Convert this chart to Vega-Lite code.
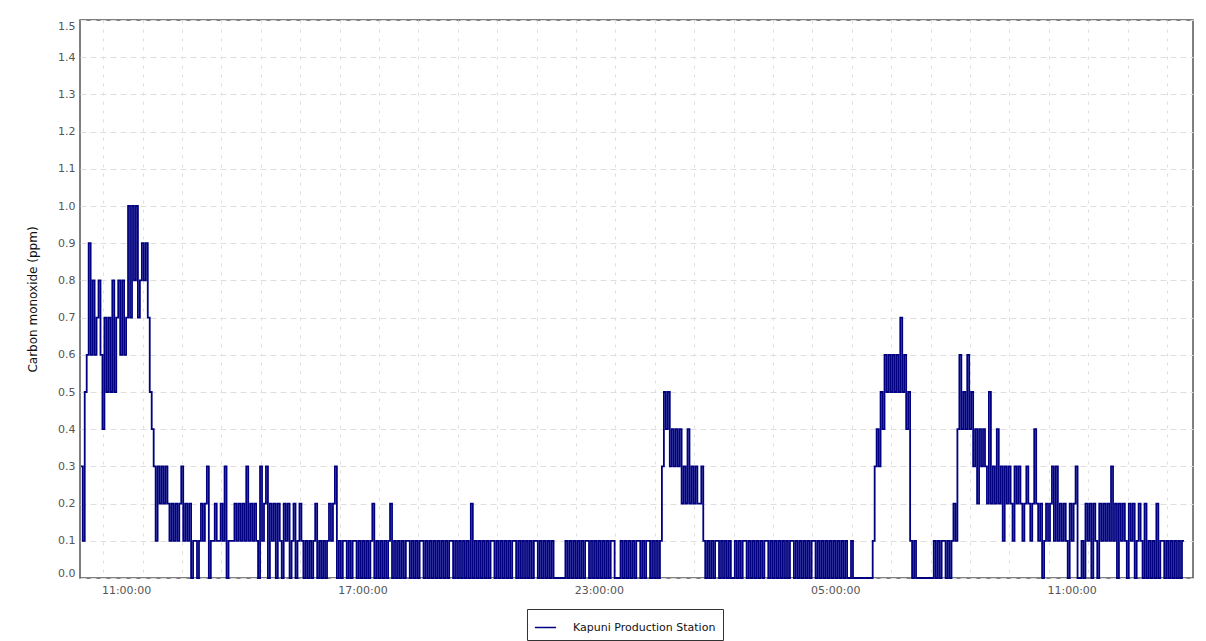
{
 "$schema": "https://vega.github.io/schema/vega-lite/v6.json",
 "width": 1113,
 "height": 558,
 "autosize": {"type": "none"},
 "padding": {"left": 80, "top": 20, "right": 13, "bottom": 63},
 "background": "white",
 "config": {"view": {"stroke": "#555555", "strokeWidth": 1.5}, "font": "DejaVu Sans"},
 "data": {"values": [
{"h":9.85,"v":0.3},{"h":9.90,"v":0.1},{"h":9.95,"v":0.5},
{"h":10.00,"v":0.6},{"h":10.05,"v":0.9},{"h":10.10,"v":0.6},{"h":10.15,"v":0.8},{"h":10.20,"v":0.6},{"h":10.25,"v":0.7},{"h":10.30,"v":0.8},{"h":10.35,"v":0.6},{"h":10.40,"v":0.4},{"h":10.45,"v":0.7},{"h":10.50,"v":0.5},{"h":10.55,"v":0.7},{"h":10.60,"v":0.5},{"h":10.65,"v":0.8},{"h":10.70,"v":0.5},{"h":10.75,"v":0.7},{"h":10.80,"v":0.8},{"h":10.85,"v":0.6},{"h":10.90,"v":0.8},{"h":10.95,"v":0.6},
{"h":11.00,"v":0.7},{"h":11.05,"v":1.0},{"h":11.10,"v":0.7},{"h":11.15,"v":1.0},{"h":11.20,"v":0.8},{"h":11.25,"v":1.0},{"h":11.30,"v":0.7},{"h":11.35,"v":0.8},{"h":11.40,"v":0.9},{"h":11.45,"v":0.8},{"h":11.50,"v":0.9},{"h":11.55,"v":0.7},{"h":11.60,"v":0.5},{"h":11.65,"v":0.4},{"h":11.70,"v":0.3},{"h":11.75,"v":0.1},{"h":11.80,"v":0.3},{"h":11.85,"v":0.2},{"h":11.90,"v":0.3},{"h":11.95,"v":0.2},
{"h":12.00,"v":0.3},{"h":12.05,"v":0.2},{"h":12.10,"v":0.1},{"h":12.15,"v":0.2},{"h":12.20,"v":0.1},{"h":12.25,"v":0.2},{"h":12.30,"v":0.1},{"h":12.35,"v":0.2},{"h":12.40,"v":0.3},{"h":12.45,"v":0.1},{"h":12.50,"v":0.2},{"h":12.55,"v":0.1},{"h":12.60,"v":0.2},{"h":12.65,"v":0.0},{"h":12.70,"v":0.1},{"h":12.75,"v":0.1},{"h":12.80,"v":0.0},{"h":12.85,"v":0.1},{"h":12.90,"v":0.2},{"h":12.95,"v":0.1},
{"h":13.00,"v":0.2},{"h":13.05,"v":0.3},{"h":13.10,"v":0.0},{"h":13.15,"v":0.1},{"h":13.20,"v":0.1},{"h":13.25,"v":0.2},{"h":13.30,"v":0.1},{"h":13.35,"v":0.1},{"h":13.40,"v":0.2},{"h":13.45,"v":0.1},{"h":13.50,"v":0.3},{"h":13.55,"v":0.0},{"h":13.60,"v":0.1},{"h":13.65,"v":0.1},{"h":13.70,"v":0.1},{"h":13.75,"v":0.2},{"h":13.80,"v":0.1},{"h":13.85,"v":0.2},{"h":13.90,"v":0.1},{"h":13.95,"v":0.2},
{"h":14.00,"v":0.1},{"h":14.05,"v":0.3},{"h":14.10,"v":0.1},{"h":14.15,"v":0.2},{"h":14.20,"v":0.1},{"h":14.25,"v":0.2},{"h":14.30,"v":0.1},{"h":14.35,"v":0.0},{"h":14.40,"v":0.3},{"h":14.45,"v":0.1},{"h":14.50,"v":0.2},{"h":14.55,"v":0.3},{"h":14.60,"v":0.0},{"h":14.65,"v":0.2},{"h":14.70,"v":0.1},{"h":14.75,"v":0.2},{"h":14.80,"v":0.0},{"h":14.85,"v":0.2},{"h":14.90,"v":0.1},{"h":14.95,"v":0.0},
{"h":15.00,"v":0.2},{"h":15.05,"v":0.1},{"h":15.10,"v":0.2},{"h":15.15,"v":0.0},{"h":15.20,"v":0.1},{"h":15.25,"v":0.2},{"h":15.30,"v":0.0},{"h":15.35,"v":0.1},{"h":15.40,"v":0.2},{"h":15.45,"v":0.1},{"h":15.50,"v":0.0},{"h":15.55,"v":0.1},{"h":15.60,"v":0.0},{"h":15.65,"v":0.1},{"h":15.70,"v":0.0},{"h":15.75,"v":0.1},{"h":15.80,"v":0.2},{"h":15.85,"v":0.0},{"h":15.90,"v":0.1},{"h":15.95,"v":0.0},
{"h":16.00,"v":0.1},{"h":16.05,"v":0.0},{"h":16.10,"v":0.1},{"h":16.15,"v":0.2},{"h":16.20,"v":0.1},{"h":16.25,"v":0.2},{"h":16.30,"v":0.3},{"h":16.35,"v":0.0},{"h":16.40,"v":0.1},{"h":16.45,"v":0.0},{"h":16.50,"v":0.1},{"h":16.55,"v":0.1},{"h":16.60,"v":0.0},{"h":16.65,"v":0.1},{"h":16.70,"v":0.0},{"h":16.75,"v":0.1},{"h":16.80,"v":0.1},{"h":16.85,"v":0.0},{"h":16.90,"v":0.1},{"h":16.95,"v":0.0},
{"h":17.00,"v":0.1},{"h":17.05,"v":0.0},{"h":17.10,"v":0.1},{"h":17.15,"v":0.0},{"h":17.20,"v":0.1},{"h":17.25,"v":0.2},{"h":17.30,"v":0.0},{"h":17.35,"v":0.1},{"h":17.40,"v":0.0},{"h":17.45,"v":0.1},{"h":17.50,"v":0.0},{"h":17.55,"v":0.1},{"h":17.60,"v":0.0},{"h":17.65,"v":0.1},{"h":17.70,"v":0.2},{"h":17.75,"v":0.0},{"h":17.80,"v":0.1},{"h":17.85,"v":0.0},{"h":17.90,"v":0.1},{"h":17.95,"v":0.0},
{"h":18.00,"v":0.1},{"h":18.05,"v":0.0},{"h":18.10,"v":0.1},{"h":18.15,"v":0.1},{"h":18.20,"v":0.0},{"h":18.25,"v":0.1},{"h":18.30,"v":0.0},{"h":18.35,"v":0.1},{"h":18.40,"v":0.0},{"h":18.45,"v":0.1},{"h":18.50,"v":0.1},{"h":18.55,"v":0.0},{"h":18.60,"v":0.1},{"h":18.65,"v":0.0},{"h":18.70,"v":0.1},{"h":18.75,"v":0.0},{"h":18.80,"v":0.1},{"h":18.85,"v":0.0},{"h":18.90,"v":0.1},{"h":18.95,"v":0.0},
{"h":19.00,"v":0.1},{"h":19.05,"v":0.0},{"h":19.10,"v":0.1},{"h":19.15,"v":0.0},{"h":19.20,"v":0.1},{"h":19.25,"v":0.1},{"h":19.30,"v":0.0},{"h":19.35,"v":0.1},{"h":19.40,"v":0.0},{"h":19.45,"v":0.1},{"h":19.50,"v":0.0},{"h":19.55,"v":0.1},{"h":19.60,"v":0.0},{"h":19.65,"v":0.1},{"h":19.70,"v":0.0},{"h":19.75,"v":0.2},{"h":19.80,"v":0.0},{"h":19.85,"v":0.1},{"h":19.90,"v":0.0},{"h":19.95,"v":0.1},
{"h":20.00,"v":0.0},{"h":20.05,"v":0.1},{"h":20.10,"v":0.0},{"h":20.15,"v":0.1},{"h":20.20,"v":0.0},{"h":20.25,"v":0.1},{"h":20.30,"v":0.1},{"h":20.35,"v":0.0},{"h":20.40,"v":0.1},{"h":20.45,"v":0.0},{"h":20.50,"v":0.1},{"h":20.55,"v":0.0},{"h":20.60,"v":0.1},{"h":20.65,"v":0.0},{"h":20.70,"v":0.1},{"h":20.75,"v":0.0},{"h":20.80,"v":0.1},{"h":20.85,"v":0.1},{"h":20.90,"v":0.0},{"h":20.95,"v":0.1},
{"h":21.00,"v":0.0},{"h":21.05,"v":0.1},{"h":21.10,"v":0.0},{"h":21.15,"v":0.1},{"h":21.20,"v":0.0},{"h":21.25,"v":0.1},{"h":21.30,"v":0.0},{"h":21.35,"v":0.1},{"h":21.40,"v":0.1},{"h":21.45,"v":0.0},{"h":21.50,"v":0.1},{"h":21.55,"v":0.0},{"h":21.60,"v":0.1},{"h":21.65,"v":0.0},{"h":21.70,"v":0.1},{"h":21.75,"v":0.0},{"h":21.80,"v":0.1},{"h":21.85,"v":0.0},{"h":21.90,"v":0.0},{"h":21.95,"v":0.0},
{"h":22.00,"v":0.0},{"h":22.05,"v":0.0},{"h":22.10,"v":0.0},{"h":22.15,"v":0.1},{"h":22.20,"v":0.0},{"h":22.25,"v":0.1},{"h":22.30,"v":0.0},{"h":22.35,"v":0.1},{"h":22.40,"v":0.0},{"h":22.45,"v":0.1},{"h":22.50,"v":0.0},{"h":22.55,"v":0.1},{"h":22.60,"v":0.0},{"h":22.65,"v":0.1},{"h":22.70,"v":0.1},{"h":22.75,"v":0.0},{"h":22.80,"v":0.1},{"h":22.85,"v":0.0},{"h":22.90,"v":0.1},{"h":22.95,"v":0.0},
{"h":23.00,"v":0.1},{"h":23.05,"v":0.0},{"h":23.10,"v":0.1},{"h":23.15,"v":0.0},{"h":23.20,"v":0.1},{"h":23.25,"v":0.0},{"h":23.30,"v":0.1},{"h":23.35,"v":0.1},{"h":23.40,"v":0.0},{"h":23.45,"v":0.0},{"h":23.50,"v":0.0},{"h":23.55,"v":0.1},{"h":23.60,"v":0.0},{"h":23.65,"v":0.1},{"h":23.70,"v":0.0},{"h":23.75,"v":0.1},{"h":23.80,"v":0.0},{"h":23.85,"v":0.1},{"h":23.90,"v":0.0},{"h":23.95,"v":0.1},
{"h":24.00,"v":0.1},{"h":24.05,"v":0.0},{"h":24.10,"v":0.1},{"h":24.15,"v":0.0},{"h":24.20,"v":0.1},{"h":24.25,"v":0.1},{"h":24.30,"v":0.0},{"h":24.35,"v":0.1},{"h":24.40,"v":0.0},{"h":24.45,"v":0.1},{"h":24.50,"v":0.0},{"h":24.55,"v":0.1},{"h":24.60,"v":0.3},{"h":24.65,"v":0.5},{"h":24.70,"v":0.4},{"h":24.75,"v":0.5},{"h":24.80,"v":0.3},{"h":24.85,"v":0.4},{"h":24.90,"v":0.3},{"h":24.95,"v":0.4},
{"h":25.00,"v":0.3},{"h":25.05,"v":0.4},{"h":25.10,"v":0.2},{"h":25.15,"v":0.3},{"h":25.20,"v":0.2},{"h":25.25,"v":0.4},{"h":25.30,"v":0.2},{"h":25.35,"v":0.3},{"h":25.40,"v":0.2},{"h":25.45,"v":0.3},{"h":25.50,"v":0.2},{"h":25.55,"v":0.2},{"h":25.60,"v":0.3},{"h":25.65,"v":0.1},{"h":25.70,"v":0.0},{"h":25.75,"v":0.1},{"h":25.80,"v":0.0},{"h":25.85,"v":0.1},{"h":25.90,"v":0.0},{"h":25.95,"v":0.1},
{"h":26.00,"v":0.1},{"h":26.05,"v":0.0},{"h":26.10,"v":0.1},{"h":26.15,"v":0.0},{"h":26.20,"v":0.1},{"h":26.25,"v":0.0},{"h":26.30,"v":0.1},{"h":26.35,"v":0.0},{"h":26.40,"v":0.0},{"h":26.45,"v":0.1},{"h":26.50,"v":0.0},{"h":26.55,"v":0.1},{"h":26.60,"v":0.0},{"h":26.65,"v":0.1},{"h":26.70,"v":0.1},{"h":26.75,"v":0.0},{"h":26.80,"v":0.1},{"h":26.85,"v":0.0},{"h":26.90,"v":0.1},{"h":26.95,"v":0.0},
{"h":27.00,"v":0.1},{"h":27.05,"v":0.0},{"h":27.10,"v":0.1},{"h":27.15,"v":0.0},{"h":27.20,"v":0.1},{"h":27.25,"v":0.1},{"h":27.30,"v":0.0},{"h":27.35,"v":0.1},{"h":27.40,"v":0.0},{"h":27.45,"v":0.1},{"h":27.50,"v":0.0},{"h":27.55,"v":0.1},{"h":27.60,"v":0.0},{"h":27.65,"v":0.1},{"h":27.70,"v":0.0},{"h":27.75,"v":0.1},{"h":27.80,"v":0.0},{"h":27.85,"v":0.1},{"h":27.90,"v":0.1},{"h":27.95,"v":0.0},
{"h":28.00,"v":0.1},{"h":28.05,"v":0.0},{"h":28.10,"v":0.1},{"h":28.15,"v":0.0},{"h":28.20,"v":0.1},{"h":28.25,"v":0.0},{"h":28.30,"v":0.1},{"h":28.35,"v":0.0},{"h":28.40,"v":0.1},{"h":28.45,"v":0.1},{"h":28.50,"v":0.0},{"h":28.55,"v":0.1},{"h":28.60,"v":0.0},{"h":28.65,"v":0.1},{"h":28.70,"v":0.0},{"h":28.75,"v":0.1},{"h":28.80,"v":0.0},{"h":28.85,"v":0.1},{"h":28.90,"v":0.0},{"h":28.95,"v":0.1},
{"h":29.00,"v":0.0},{"h":29.05,"v":0.1},{"h":29.10,"v":0.0},{"h":29.15,"v":0.1},{"h":29.20,"v":0.0},{"h":29.25,"v":0.1},{"h":29.30,"v":0.0},{"h":29.35,"v":0.0},{"h":29.40,"v":0.1},{"h":29.45,"v":0.0},{"h":29.50,"v":0.0},{"h":29.55,"v":0.0},{"h":29.60,"v":0.0},{"h":29.65,"v":0.0},{"h":29.70,"v":0.0},{"h":29.75,"v":0.0},{"h":29.80,"v":0.0},{"h":29.85,"v":0.0},{"h":29.90,"v":0.0},{"h":29.95,"v":0.1},
{"h":30.00,"v":0.3},{"h":30.05,"v":0.4},{"h":30.10,"v":0.3},{"h":30.15,"v":0.5},{"h":30.20,"v":0.4},{"h":30.25,"v":0.6},{"h":30.30,"v":0.5},{"h":30.35,"v":0.6},{"h":30.40,"v":0.5},{"h":30.45,"v":0.6},{"h":30.50,"v":0.5},{"h":30.55,"v":0.6},{"h":30.60,"v":0.5},{"h":30.65,"v":0.7},{"h":30.70,"v":0.5},{"h":30.75,"v":0.6},{"h":30.80,"v":0.4},{"h":30.85,"v":0.5},{"h":30.90,"v":0.1},{"h":30.95,"v":0.0},
{"h":31.00,"v":0.1},{"h":31.05,"v":0.0},{"h":31.10,"v":0.0},{"h":31.15,"v":0.0},{"h":31.20,"v":0.0},{"h":31.25,"v":0.0},{"h":31.30,"v":0.0},{"h":31.35,"v":0.0},{"h":31.40,"v":0.0},{"h":31.45,"v":0.0},{"h":31.50,"v":0.1},{"h":31.55,"v":0.0},{"h":31.60,"v":0.1},{"h":31.65,"v":0.0},{"h":31.70,"v":0.1},{"h":31.75,"v":0.1},{"h":31.80,"v":0.0},{"h":31.85,"v":0.1},{"h":31.90,"v":0.0},{"h":31.95,"v":0.1},
{"h":32.00,"v":0.2},{"h":32.05,"v":0.1},{"h":32.10,"v":0.4},{"h":32.15,"v":0.6},{"h":32.20,"v":0.4},{"h":32.25,"v":0.5},{"h":32.30,"v":0.4},{"h":32.35,"v":0.6},{"h":32.40,"v":0.4},{"h":32.45,"v":0.5},{"h":32.50,"v":0.3},{"h":32.55,"v":0.4},{"h":32.60,"v":0.2},{"h":32.65,"v":0.4},{"h":32.70,"v":0.3},{"h":32.75,"v":0.4},{"h":32.80,"v":0.3},{"h":32.85,"v":0.2},{"h":32.90,"v":0.5},{"h":32.95,"v":0.2},
{"h":33.00,"v":0.3},{"h":33.05,"v":0.2},{"h":33.10,"v":0.4},{"h":33.15,"v":0.2},{"h":33.20,"v":0.3},{"h":33.25,"v":0.1},{"h":33.30,"v":0.3},{"h":33.35,"v":0.2},{"h":33.40,"v":0.3},{"h":33.45,"v":0.2},{"h":33.50,"v":0.1},{"h":33.55,"v":0.3},{"h":33.60,"v":0.2},{"h":33.65,"v":0.3},{"h":33.70,"v":0.2},{"h":33.75,"v":0.1},{"h":33.80,"v":0.2},{"h":33.85,"v":0.3},{"h":33.90,"v":0.2},{"h":33.95,"v":0.1},
{"h":34.00,"v":0.2},{"h":34.05,"v":0.4},{"h":34.10,"v":0.2},{"h":34.15,"v":0.1},{"h":34.20,"v":0.2},{"h":34.25,"v":0.0},{"h":34.30,"v":0.1},{"h":34.35,"v":0.2},{"h":34.40,"v":0.1},{"h":34.45,"v":0.2},{"h":34.50,"v":0.3},{"h":34.55,"v":0.1},{"h":34.60,"v":0.3},{"h":34.65,"v":0.1},{"h":34.70,"v":0.2},{"h":34.75,"v":0.1},{"h":34.80,"v":0.2},{"h":34.85,"v":0.1},{"h":34.90,"v":0.0},{"h":34.95,"v":0.2},
{"h":35.00,"v":0.1},{"h":35.05,"v":0.2},{"h":35.10,"v":0.3},{"h":35.15,"v":0.0},{"h":35.20,"v":0.0},{"h":35.25,"v":0.1},{"h":35.30,"v":0.0},{"h":35.35,"v":0.2},{"h":35.40,"v":0.1},{"h":35.45,"v":0.2},{"h":35.50,"v":0.0},{"h":35.55,"v":0.2},{"h":35.60,"v":0.1},{"h":35.65,"v":0.0},{"h":35.70,"v":0.2},{"h":35.75,"v":0.1},{"h":35.80,"v":0.2},{"h":35.85,"v":0.1},{"h":35.90,"v":0.2},{"h":35.95,"v":0.1},
{"h":36.00,"v":0.3},{"h":36.05,"v":0.1},{"h":36.10,"v":0.2},{"h":36.15,"v":0.0},{"h":36.20,"v":0.2},{"h":36.25,"v":0.1},{"h":36.30,"v":0.2},{"h":36.35,"v":0.1},{"h":36.40,"v":0.0},{"h":36.45,"v":0.2},{"h":36.50,"v":0.1},{"h":36.55,"v":0.2},{"h":36.60,"v":0.0},{"h":36.65,"v":0.1},{"h":36.70,"v":0.2},{"h":36.75,"v":0.1},{"h":36.80,"v":0.0},{"h":36.85,"v":0.2},{"h":36.90,"v":0.0},{"h":36.95,"v":0.1},
{"h":37.00,"v":0.0},{"h":37.05,"v":0.1},{"h":37.10,"v":0.0},{"h":37.15,"v":0.2},{"h":37.20,"v":0.0},{"h":37.25,"v":0.1},{"h":37.30,"v":0.1},{"h":37.35,"v":0.0},{"h":37.40,"v":0.1},{"h":37.45,"v":0.0},{"h":37.50,"v":0.1},{"h":37.55,"v":0.0},{"h":37.60,"v":0.1},{"h":37.65,"v":0.0},{"h":37.70,"v":0.1},{"h":37.75,"v":0.0},{"h":37.80,"v":0.1},{"h":37.85,"v":0.1}
 ]},
 "mark": {"type": "line", "interpolate": "step-after", "strokeWidth": 1.8},
 "encoding": {
  "x": {
   "field": "h", "type": "quantitative",
   "scale": {"domain": [9.83, 38.08], "nice": false, "zero": false},
   "axis": {
    "title": null,
    "values": [10.42,11,11.42,12.42,13.42,14.42,15.42,16.42,17,17.42,18.42,19.42,20.42,21.42,22.42,23,23.42,24.42,25.42,26.42,27.42,28.42,29,29.42,30.42,31.42,32.42,33.42,34.42,35,35.42,36.42,37.42],
    "labelExpr": "datum.value % 1 == 0 ? ((datum.value % 24 < 10 ? '0' : '') + (datum.value % 24) + ':00:00') : ''",
    "labelOverlap": false,
    "ticks": false,
    "domain": false,
    "labelFontSize": 11,
    "labelColor": "#555555",
    "labelPadding": 6,
    "gridColor": "#dedede",
    "gridDash": [3, 6],
    "gridOpacity": {"condition": {"test": "datum.value % 1 == 0", "value": 0}, "value": 1}
   }
  },
  "y": {
   "field": "v", "type": "quantitative",
   "scale": {"domain": [0, 1.5], "nice": false},
   "axis": {
    "title": "Carbon monoxide (ppm)",
    "values": [0,0.1,0.2,0.3,0.4,0.5,0.6,0.7,0.8,0.9,1.0,1.1,1.2,1.3,1.4,1.5],
    "format": ".1f",
    "labelFlush": true,
    "ticks": false,
    "domain": false,
    "labelFontSize": 11,
    "labelColor": "#555555",
    "labelPadding": 5,
    "gridColor": "#dedede",
    "gridDash": [6, 4],
    "titleFontSize": 12,
    "titleFontWeight": "normal",
    "titleColor": "#111111",
    "titlePadding": 18
   }
  },
  "color": {
   "datum": "Kapuni Production Station",
   "scale": {"range": ["#000080"]},
   "legend": {
    "title": null,
    "orient": "none",
    "legendX": 447,
    "legendY": 589,
    "direction": "horizontal",
    "strokeColor": "#333333",
    "fillColor": "white",
    "padding": 7,
    "symbolType": "stroke",
    "symbolStrokeWidth": 1.5,
    "symbolSize": 450,
    "labelFontSize": 11,
    "labelColor": "#111111",
    "labelOffset": 16,
    "cornerRadius": 0
   }
  }
 }
}
